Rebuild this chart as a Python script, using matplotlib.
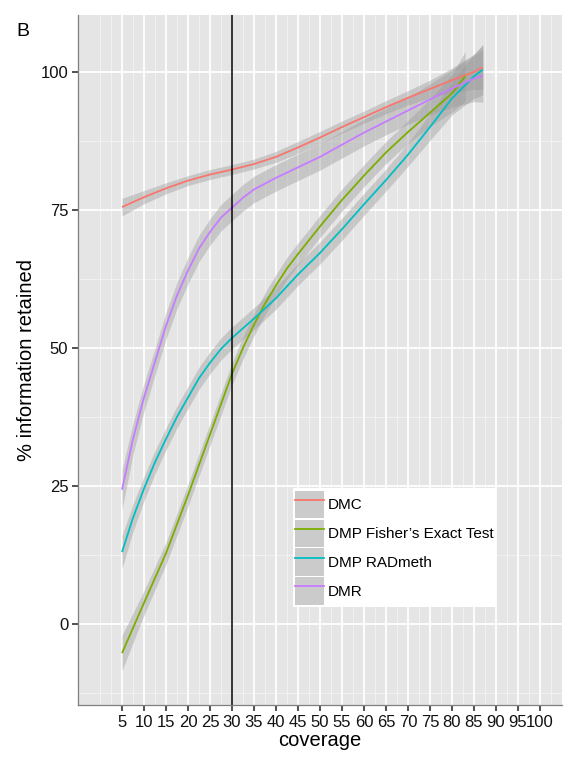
import matplotlib
matplotlib.use("Agg")
import matplotlib.pyplot as plt
from matplotlib.patches import Patch
from matplotlib.lines import Line2D
from matplotlib.legend_handler import HandlerTuple

plt.rcParams['font.family'] = ['Liberation Sans', 'DejaVu Sans']

# ---- data ----
series_names = ["DMC", "DMP Fisher\u2019s Exact Test", "DMP RADmeth", "DMR"]
series_colors = ["#F8766D", "#7CAE00", "#00BFC4", "#C77CFF"]

dmc_x = [5, 10, 15, 20, 25, 30, 35, 40, 45, 50, 55, 60, 65, 70, 75, 80, 85, 87]
dmc_y = [75.5, 77.3, 78.9, 80.3, 81.4, 82.3, 83.3, 84.6, 86.3, 88.1, 90.0, 91.8, 93.6, 95.3, 96.9, 98.5, 100.0, 100.8]
dmc_se = [1.6, 1.2, 1.0, 0.9, 0.9, 0.9, 0.9, 1.0, 1.1, 1.1, 1.1, 1.1, 1.2, 1.3, 1.6, 2.2, 3.2, 4.0]

fisher_x = [5, 10, 15, 20, 25, 30, 32.5, 35, 37.5, 40, 42.5, 45, 50, 55, 60, 65, 70, 75, 80, 83]
fisher_y = [-5.3, 3.8, 12.8, 23.3, 34.3, 45.3, 50.0, 54.2, 58.0, 61.3, 64.4, 67.0, 72.0, 76.8, 81.2, 85.4, 89.1, 92.6, 96.1, 99.2]
fisher_se = [3.2, 2.2, 2.0, 2.0, 2.0, 2.0, 2.0, 2.0, 2.0, 2.0, 2.0, 2.0, 2.0, 2.0, 2.0, 2.0, 2.1, 2.5, 3.4, 4.5]

radmeth_x = [5, 7.5, 10, 12.5, 15, 17.5, 20, 22.5, 25, 27.5, 30, 35, 40, 45, 50, 55, 60, 65, 70, 75, 80, 85, 87]
radmeth_y = [13.0, 19.2, 24.5, 29.3, 33.5, 37.5, 41.0, 44.5, 47.3, 49.8, 51.8, 55.3, 59.0, 63.3, 67.2, 71.5, 76.0, 80.4, 85.0, 90.0, 95.2, 99.2, 100.4]
radmeth_se = [3.0, 2.5, 2.2, 2.1, 2.0, 2.0, 2.0, 2.0, 2.0, 2.0, 2.0, 2.0, 2.0, 2.0, 2.0, 2.0, 2.0, 2.0, 2.1, 2.4, 3.0, 4.0, 4.6]

dmr_x = [5, 7.5, 10, 12.5, 15, 17.5, 20, 22.5, 25, 27.5, 30, 32.5, 35, 40, 45, 50, 55, 60, 65, 70, 75, 80, 85, 87]
dmr_y = [24.3, 33.5, 41.0, 47.5, 54.0, 59.5, 64.0, 68.0, 71.0, 73.6, 75.4, 77.2, 78.7, 80.8, 82.7, 84.6, 86.8, 89.0, 91.0, 93.0, 95.0, 97.0, 98.8, 99.3]
dmr_se = [3.6, 2.8, 2.5, 2.4, 2.4, 2.4, 2.4, 2.4, 2.4, 2.4, 2.4, 2.4, 2.4, 2.4, 2.4, 2.4, 2.4, 2.4, 2.4, 2.5, 2.8, 3.4, 4.2, 4.8]

xs = [dmc_x, fisher_x, radmeth_x, dmr_x]
ys = [dmc_y, fisher_y, radmeth_y, dmr_y]
ses = [dmc_se, fisher_se, radmeth_se, dmr_se]

x_ticks = [5, 10, 15, 20, 25, 30, 35, 40, 45, 50, 55, 60, 65, 70, 75, 80, 85, 90, 95, 100]
y_ticks = [0, 25, 50, 75, 100]
x_minor = [0, 2.5] + [t + 2.5 for t in x_ticks]
y_minor = [-12.5, 12.5, 37.5, 62.5, 87.5]
cutoff = 30

# ---- figure ----
W, H = 573, 765
fig = plt.figure(figsize=(W / 100, H / 100), dpi=100)
ax = fig.add_axes([78 / W, 1 - 705 / H, (562 - 78) / W, (705 - 15) / H])
ax.set_facecolor("#E5E5E5")
ax.set_xlim(-5, 105)
ax.set_ylim(-14.7, 110.3)

for v in x_minor:
    ax.axvline(v, color="#F2F2F2", lw=0.7, zorder=0.5)
for v in y_minor:
    ax.axhline(v, color="#F2F2F2", lw=0.7, zorder=0.5)
for v in x_ticks:
    ax.axvline(v, color="white", lw=1.3, zorder=0.6)
for v in y_ticks:
    ax.axhline(v, color="white", lw=1.3, zorder=0.6)

for x, y, se in zip(xs, ys, ses):
    lo = [a - b for a, b in zip(y, se)]
    hi = [a + b for a, b in zip(y, se)]
    ax.fill_between(x, lo, hi, color="#999999", alpha=0.4, lw=0, zorder=1)
for x, y, c in zip(xs, ys, series_colors):
    ax.plot(x, y, color=c, lw=1.3, zorder=2, solid_capstyle="butt", solid_joinstyle="round")

ax.axvline(cutoff, color="black", lw=1.1, zorder=3)

ax.set_xticks(x_ticks)
ax.set_yticks(y_ticks)
ax.tick_params(axis="both", length=4, width=1.2, color="#333333",
               labelsize=12, labelcolor="#111111", pad=3)
for s in ["top", "right"]:
    ax.spines[s].set_visible(False)
for s in ["left", "bottom"]:
    ax.spines[s].set_color("#7F7F7F")
    ax.spines[s].set_linewidth(0.9)

ax.set_xlabel("coverage", fontsize=14.5, labelpad=1)
ax.set_ylabel("% information retained", fontsize=14.5, labelpad=3)

# legend
handles = [(Patch(facecolor="#CBCBCB", edgecolor="none"),
            Line2D([], [], color=c, lw=1.3)) for c in series_colors]
leg = ax.legend(handles, series_names, handler_map={tuple: HandlerTuple(ndivide=1)},
                loc="lower left", bbox_to_anchor=((293 - 78) / 484, (705 - 607) / 690),
                borderaxespad=0, fontsize=11, frameon=True, fancybox=False,
                handlelength=1.85, handleheight=2.4, labelspacing=0.08,
                handletextpad=0.3, borderpad=0.15)
leg.get_frame().set_facecolor("white")
leg.get_frame().set_edgecolor("none")
leg.get_frame().set_alpha(1)
leg.set_zorder(5)

fig.text(16 / W, 1 - 32 / H, "B", fontsize=14, va="center", ha="left")

fig.savefig("out.png", dpi=100)
